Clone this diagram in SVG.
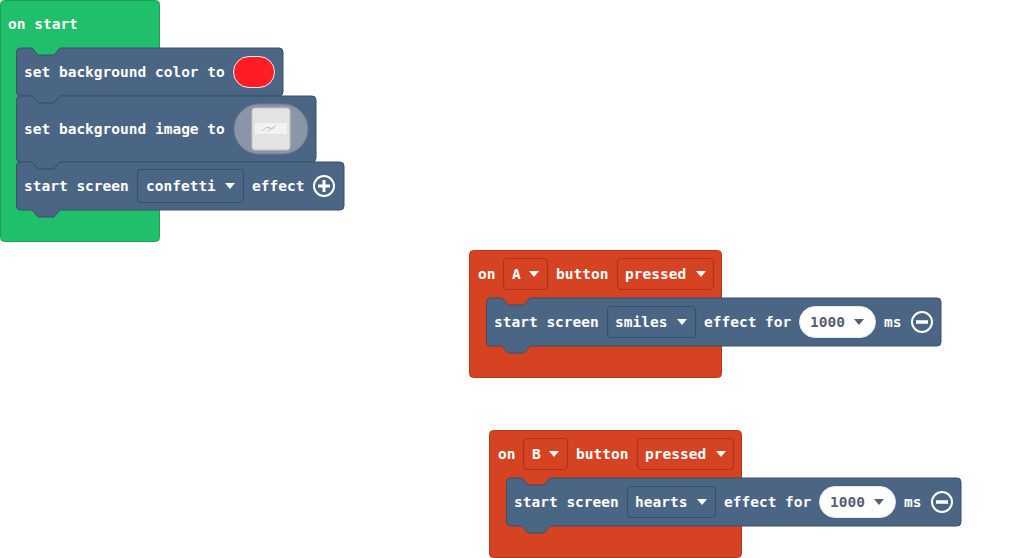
<svg xmlns="http://www.w3.org/2000/svg" width="1014" height="558" viewBox="0 0 1014 558">
<style>
.t{font-family:"DejaVu Sans Mono","Liberation Mono",monospace;font-weight:bold;font-size:14.5px;fill:#ffffff}
.n{fill:#575e75}
.scene{fill:#4b6584;stroke:#3a5069;stroke-width:1}
.loops{fill:#20bf6b;stroke:#1a9f59;stroke-width:1}
.ctrl{fill:#d54322;stroke:#b5381b;stroke-width:1}
.ddb{fill:#4b6584;stroke:#3a4f68;stroke-width:1.2}
.ddr{fill:#d54322;stroke:#a9341a;stroke-width:1.2}
.tri{fill:#ffffff}
.ico{fill:none;stroke:#ffffff;stroke-width:2}
</style>
<defs>
<path id="dd" d="M0,0 h10 l-5,6 z"/>
</defs>

<g id="on-start">
<rect class="loops" x="0.5" y="0.5" width="159" height="241" rx="4"/>
<text class="t" x="8" y="29">on start</text>
</g>

<g id="set-bg-color">
<path class="scene" d="M16.5,52 a4,4 0 0 1 4,-4 H32 l6,7 H54 l6,-7 H279 a4,4 0 0 1 4,4 V92 a4,4 0 0 1 -4,4 H60 l-6,7 H38 l-6,-7 H20.5 a4,4 0 0 1 -4,-4 Z"/>
<text class="t" x="24" y="77">set background color to</text>
<rect x="233.5" y="56.5" width="41" height="31" rx="15.5" fill="#ff1d25" stroke="#f2f2f2" stroke-width="1"/>
</g>

<g id="set-bg-image">
<path class="scene" d="M16.5,100 a4,4 0 0 1 4,-4 H32 l6,7 H54 l6,-7 H312 a4,4 0 0 1 4,4 V158 a4,4 0 0 1 -4,4 H60 l-6,7 H38 l-6,-7 H20.5 a4,4 0 0 1 -4,-4 Z"/>
<text class="t" x="24" y="134">set background image to</text>
<rect x="234" y="104" width="74" height="50" rx="25" fill="#8a95a7" stroke="#6f7b8e" stroke-width="1"/>
<rect x="252" y="108" width="38" height="42" rx="3" fill="#e3e3e3" stroke="#c4c4c4" stroke-width="1"/>
<rect x="255" y="123" width="32" height="11" fill="#f2f2f2"/>
<path d="M262,131 q4,-5 8,-3 q3,2 6,-3 M268,131 l6,-4" fill="none" stroke="#b8b8b8" stroke-width="0.8"/>
</g>

<g id="start-confetti">
<path class="scene" d="M16.5,166 a4,4 0 0 1 4,-4 H32 l6,7 H54 l6,-7 H340 a4,4 0 0 1 4,4 V206 a4,4 0 0 1 -4,4 H60 l-6,7 H38 l-6,-7 H20.5 a4,4 0 0 1 -4,-4 Z"/>
<text class="t" x="24" y="191">start screen</text>
<rect class="ddb" x="137.5" y="169.5" width="106" height="33" rx="4"/>
<text class="t" x="146" y="191">confetti</text>
<use href="#dd" class="tri" x="225" y="183"/>
<text class="t" x="252" y="191">effect</text>
<circle class="ico" cx="324" cy="186" r="10"/>
<path d="M324,180 v12 M318,186 h12" stroke="#ffffff" stroke-width="3"/>
</g>

<g id="on-a-pressed">
<rect class="ctrl" x="469.5" y="250.5" width="252" height="127" rx="4"/>
<text class="t" x="478" y="279">on</text>
<rect class="ddr" x="503.5" y="258.5" width="44" height="31" rx="4"/>
<text class="t" x="512" y="279">A</text>
<use href="#dd" class="tri" x="529" y="271"/>
<text class="t" x="556" y="279">button</text>
<rect class="ddr" x="617.5" y="258.5" width="96" height="31" rx="4"/>
<text class="t" x="625" y="279">pressed</text>
<use href="#dd" class="tri" x="696" y="271"/>
</g>

<g id="start-smiles">
<path class="scene" d="M486.5,302 a4,4 0 0 1 4,-4 H502 l6,7 H524 l6,-7 H937 a4,4 0 0 1 4,4 V342 a4,4 0 0 1 -4,4 H530 l-6,7 H508 l-6,-7 H490.5 a4,4 0 0 1 -4,-4 Z"/>
<text class="t" x="494" y="327">start screen</text>
<rect class="ddb" x="607.5" y="306.5" width="88" height="31" rx="4"/>
<text class="t" x="615" y="327">smiles</text>
<use href="#dd" class="tri" x="677" y="319"/>
<text class="t" x="704" y="327">effect for</text>
<rect x="799.5" y="306.5" width="76" height="31" rx="15.5" fill="#ffffff" stroke="#e6e6e6" stroke-width="1"/>
<text class="t n" x="810" y="327">1000</text>
<use href="#dd" class="n" x="854" y="319"/>
<text class="t" x="884" y="327">ms</text>
<circle class="ico" cx="922" cy="322" r="10"/>
<path d="M916,322 h12" stroke="#ffffff" stroke-width="3.5"/>
</g>

<g id="on-b-pressed">
<rect class="ctrl" x="489.5" y="430.5" width="252" height="127" rx="4"/>
<text class="t" x="498" y="459">on</text>
<rect class="ddr" x="523.5" y="438.5" width="44" height="31" rx="4"/>
<text class="t" x="532" y="459">B</text>
<use href="#dd" class="tri" x="549" y="451"/>
<text class="t" x="576" y="459">button</text>
<rect class="ddr" x="637.5" y="438.5" width="96" height="31" rx="4"/>
<text class="t" x="645" y="459">pressed</text>
<use href="#dd" class="tri" x="716" y="451"/>
</g>

<g id="start-hearts">
<path class="scene" d="M506.5,482 a4,4 0 0 1 4,-4 H522 l6,7 H544 l6,-7 H957 a4,4 0 0 1 4,4 V522 a4,4 0 0 1 -4,4 H550 l-6,7 H528 l-6,-7 H510.5 a4,4 0 0 1 -4,-4 Z"/>
<text class="t" x="514" y="507">start screen</text>
<rect class="ddb" x="627.5" y="486.5" width="88" height="31" rx="4"/>
<text class="t" x="635" y="507">hearts</text>
<use href="#dd" class="tri" x="697" y="499"/>
<text class="t" x="724" y="507">effect for</text>
<rect x="819.5" y="486.5" width="76" height="31" rx="15.5" fill="#ffffff" stroke="#e6e6e6" stroke-width="1"/>
<text class="t n" x="830" y="507">1000</text>
<use href="#dd" class="n" x="874" y="499"/>
<text class="t" x="904" y="507">ms</text>
<circle class="ico" cx="942" cy="502" r="10"/>
<path d="M936,502 h12" stroke="#ffffff" stroke-width="3.5"/>
</g>

<g id="connectors"></g>
</svg>
